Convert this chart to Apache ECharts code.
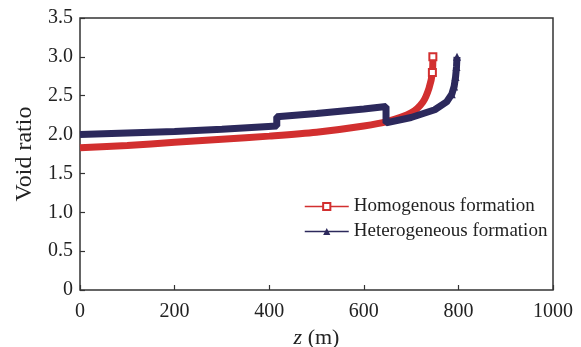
<!DOCTYPE html>
<html><head><meta charset="utf-8">
<script src="https://cdn.jsdelivr.net/npm/echarts@6/dist/echarts.min.js"></script>
<style>html,body{margin:0;padding:0;background:#fff}#c{width:581px;height:347px}</style>
</head><body><div id="c"></div>
<script>
// Homogenous formation
var homoZ = [0, 100, 200, 300, 400, 500, 600, 650, 700, 725, 738, 745, 746];
var homoE = [1.83, 1.86, 1.90, 1.94, 1.98, 2.03, 2.11, 2.17, 2.28, 2.42, 2.60, 2.80, 3.00];
// Heterogeneous formation
var hetZ = [0, 100, 200, 300, 416, 416, 500, 600, 647, 647, 700, 750, 775, 786, 791, 794, 796, 797];
var hetE = [2.00, 2.02, 2.04, 2.07, 2.11, 2.23, 2.27, 2.33, 2.36, 2.15, 2.22, 2.32, 2.42, 2.52, 2.62, 2.74, 2.87, 3.00];
var homoMarked = [11, 12];
var hetMarked = [13, 14, 15, 16, 17];
var seriesNames = ['Homogenous formation', 'Heterogeneous formation'];
var xTicks = [0, 200, 400, 600, 800, 1000];
var yTicks = [0, 0.5, 1.0, 1.5, 2.0, 2.5, 3.0, 3.5];

function build(zs, es, marked) {
  return zs.map(function (z, i) {
    var d = { value: [z, es[i]] };
    if (marked.indexOf(i) < 0) d.symbol = 'none';
    return d;
  });
}
var font = '"Liberation Serif","Times New Roman",serif';
var chart = echarts.init(document.getElementById('c'));
chart.setOption({
  animation: false,
  grid: { left: 80, right: 28, top: 18, bottom: 57, show: true, borderColor: '#333', borderWidth: 1.5, backgroundColor: 'transparent', containLabel: false, outerBoundsMode: 'none' },
  legend: {
    orient: 'vertical', left: 299, top: 192, itemGap: 6, itemWidth: 44, itemHeight: 9,
    textStyle: { fontFamily: font, fontSize: 19, color: '#222' },
    lineStyle: { width: 1.5 },
    data: seriesNames
  },
  xAxis: {
    type: 'value', min: 0, max: 1000, interval: 200,
    name: '{i|z} (m)', nameLocation: 'middle', nameGap: 29,
    nameTextStyle: { fontFamily: font, fontSize: 22, color: '#222', rich: { i: { fontFamily: font, fontSize: 22, fontStyle: 'italic', color: '#222' } } },
    axisLine: { show: false },
    axisTick: { inside: true, length: 5, lineStyle: { color: '#333', width: 1.2 } },
    axisLabel: { fontFamily: font, fontSize: 20, color: '#222', margin: 12,
      formatter: function (v) { return xTicks.indexOf(v) >= 0 ? String(v) : ''; } },
    splitLine: { show: false }
  },
  yAxis: {
    type: 'value', min: 0, max: 3.5, interval: 0.5,
    name: 'Void ratio', nameLocation: 'middle', nameGap: 42, nameRotate: 90,
    nameTextStyle: { fontFamily: font, fontSize: 24, color: '#222' },
    axisLine: { show: false },
    axisTick: { inside: true, length: 5, lineStyle: { color: '#333', width: 1.2 } },
    axisLabel: { fontFamily: font, fontSize: 20, color: '#222', margin: 7,
      formatter: function (v) { var t = yTicks.filter(function (y) { return Math.abs(y - v) < 1e-9; }); return t.length ? (v === 0 ? '0' : v.toFixed(1)) : ''; } },
    splitLine: { show: false }
  },
  series: [
    { name: seriesNames[0], type: 'line', data: build(homoZ, homoE, homoMarked), smooth: 0.3,
      color: '#d22f2f', lineStyle: { width: 7, color: '#d22f2f' },
      symbol: 'emptyRect', symbolSize: 7, itemStyle: { color: '#d22f2f', borderWidth: 1.5 }, z: 2 },
    { name: seriesNames[1], type: 'line', data: build(hetZ, hetE, hetMarked), smooth: false,
      color: '#2c295c', lineStyle: { width: 7, color: '#2c295c' },
      symbol: 'triangle', symbolSize: 8, itemStyle: { color: '#2c295c' }, z: 3 }
  ]
});
</script></body></html>
